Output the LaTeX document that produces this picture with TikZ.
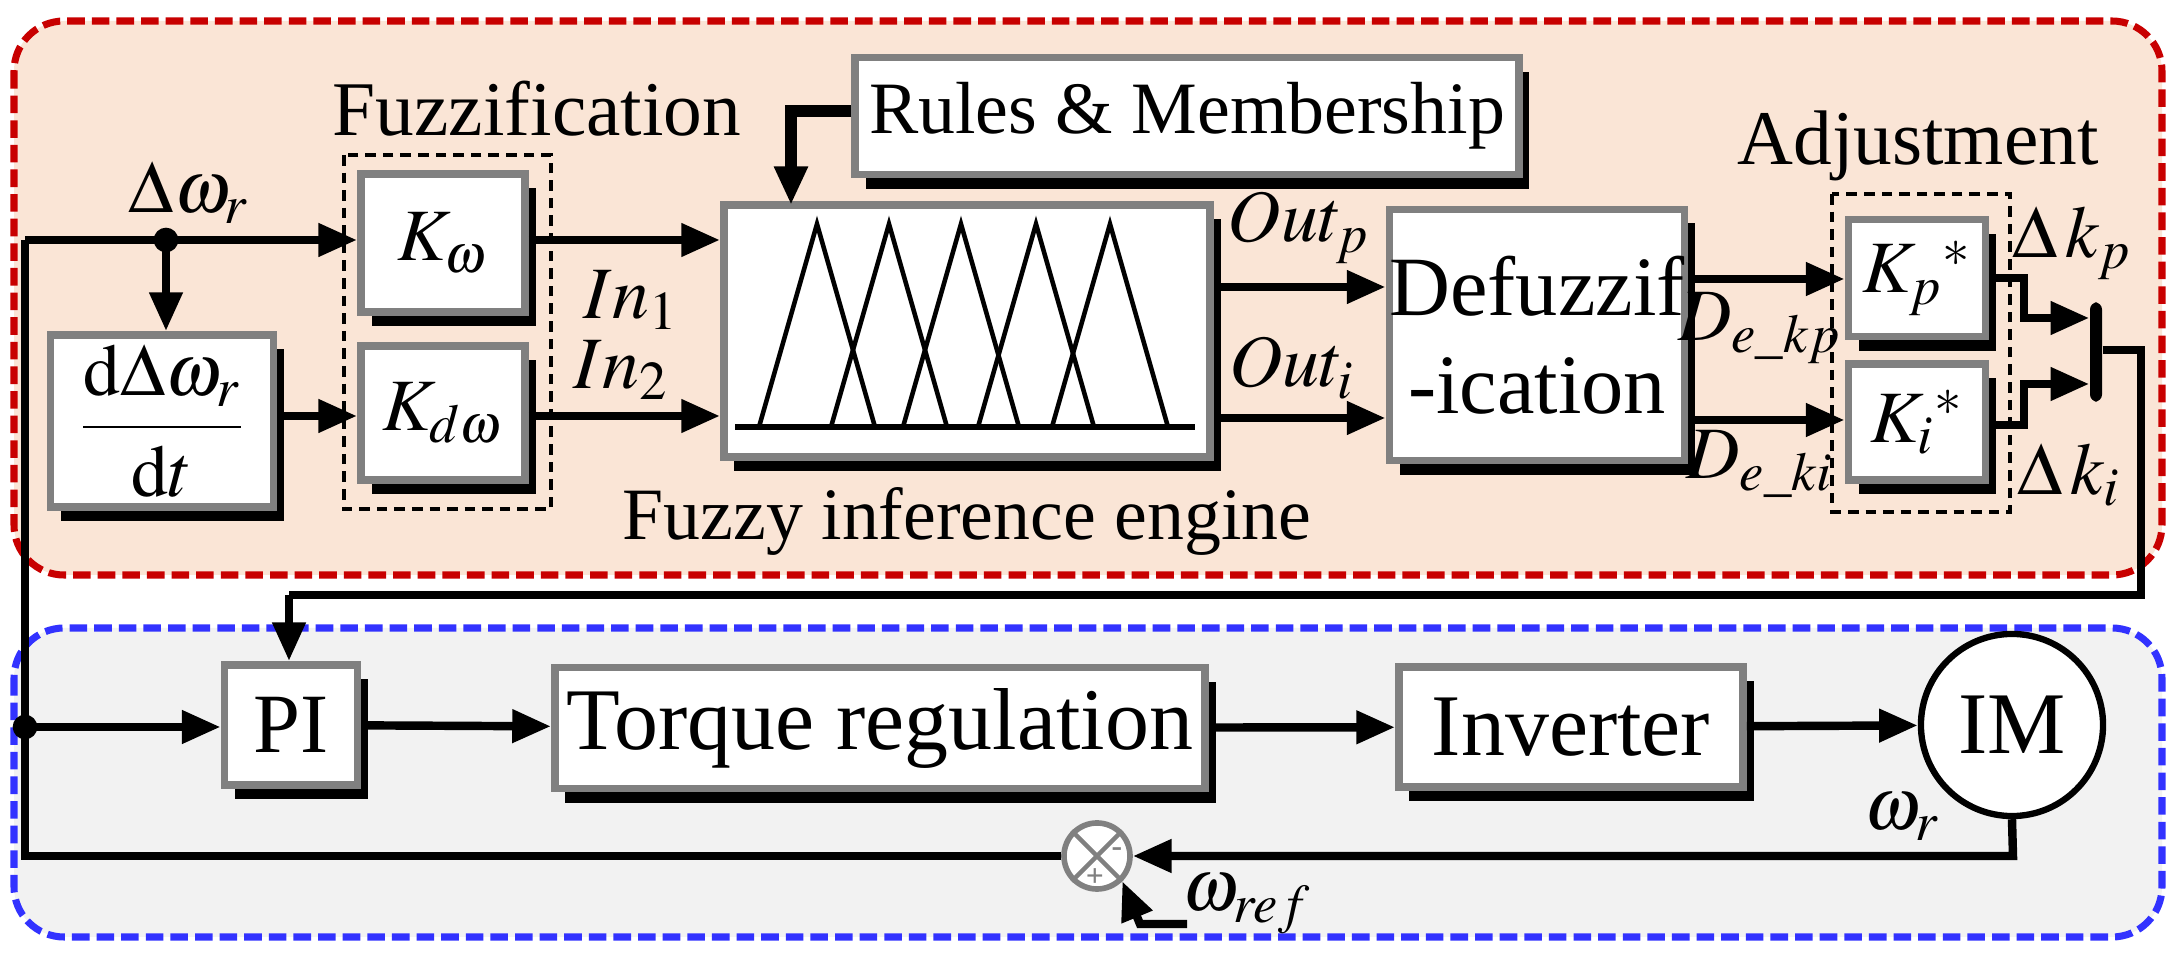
\documentclass[tikz,border=0pt]{standalone}
\usepackage{amsmath}
\usepackage{mathptmx}
\usepackage[no-math]{fontspec}
\setmainfont{Liberation Serif}
\usetikzlibrary{arrows.meta,shadows,calc}
\definecolor{redbg}{RGB}{250,229,214}
\definecolor{redln}{RGB}{200,0,0}
\definecolor{bluebg}{RGB}{242,242,242}
\definecolor{blueln}{RGB}{50,50,255}

\begin{document}
\begin{tikzpicture}[
   x=0.01cm, y=-0.01cm,
   every node/.append style={align=center, font=\fontsize{21}{24}\selectfont},
   blk/.style={draw=gray, line width=2.2pt, fill=white, inner sep=0pt,
      drop shadow={shadow xshift=3pt, shadow yshift=-4pt, fill=black, opacity=1}},
   sig/.style={line width=2.4pt, -{Triangle[length=11pt,width=9pt]}},
   wire/.style={line width=2.4pt},
   grp/.style={draw, densely dashed, line width=1.2pt}
]
\useasboundingbox (0,0) rectangle (2177,958);
% the two regions
\draw[redln, fill=redbg, line width=2pt, dash pattern=on 5pt off 2pt, rounded corners=0.5cm]
   (14,21) rectangle (2162,575);
\draw[blueln, fill=bluebg, line width=2pt, dash pattern=on 5pt off 2pt, rounded corners=0.5cm]
   (14,628) rectangle (2162,937);

% fuzzy part
\draw[grp] (344,155) rectangle (551,509);
\draw[grp] (1832,194) rectangle (2010,512);
\node[font=\fontsize{22}{24}\selectfont] (fzl) at (537,109) {Fuzzification};
\node[font=\fontsize{22}{24}\selectfont] (adl) at (1918,146) {Adjustment};
\node[blk, minimum width=2.23cm, minimum height=1.72cm] (dd) at (162,421)
   {$\dfrac{\mathrm{d}\Delta\omega_r}{\mathrm{d}t}$};
\node[blk, minimum width=1.64cm, minimum height=1.38cm] (kw) at (443,243) {$K_\omega$};
\node[blk, minimum width=1.64cm, minimum height=1.34cm] (kdw) at (443,413) {$K_{d\omega}$};
\node[blk, minimum width=4.86cm, minimum height=2.52cm] (fie) at (967,331) {};
\node[blk, minimum width=6.63cm, minimum height=1.17cm] (rules) at (1187,116) {Rules \& Membership};
\node[blk, minimum width=2.94cm, minimum height=2.51cm, font=\fontsize{24}{28}\selectfont] (defz) at (1537,335) {Defuzzif\\-ication};
\node[blk, minimum width=1.37cm, minimum height=1.17cm] (kp) at (1917,278) {$K_p{}^*$};
\node[blk, minimum width=1.37cm, minimum height=1.16cm] (ki) at (1917,422) {$K_i{}^*$};
\node[fill=black, rounded corners=2pt, minimum width=0.12cm, minimum height=0.99cm, inner sep=0pt] (bar) at (2096,352) {};
\node (fiel) at (967,521) {Fuzzy inference engine};

% membership functions
\draw[line width=1.6pt] (735,427) -- (1195,427);
\foreach \p in {817,889,961,1036,1110}
   \draw[line width=1.3pt] (\p-58,427) -- (\p,224) -- (\p+58,427);

% fuzzy signals
\coordinate (br) at (166,240);
\coordinate (lft) at (25,240);
\draw[sig] (lft) -- (kw.west |- lft);
\fill (br) circle (3.5pt);
\draw[sig] (br) -- (dd.north -| br);
\draw[sig] (dd.east |- 0,416) -- (kdw.west |- 0,416);
\draw[sig] (kw.east |- 0,240) -- (fie.west |- 0,240);
\draw[sig] (kdw.east |- 0,416) -- (fie.west |- 0,416);
\draw[sig, line width=3.2pt] (rules.west |- 0,111) -- (791,111) -- (791,205);
\draw[sig] (fie.east |- 0,287) -- (defz.west |- 0,287);
\draw[sig] (fie.east |- 0,418) -- (defz.west |- 0,418);
\draw[sig] (defz.east |- 0,279) -- (kp.west |- 0,279);
\draw[sig] (defz.east |- 0,420) -- (ki.west |- 0,420);
\draw[sig] (kp.east |- 0,278) -- (2024,278) -- (2024,318) -- (bar.west |- 0,318);
\draw[sig] (ki.east |- 0,425) -- (2024,425) -- (2024,384) -- (bar.west |- 0,384);
\node (dwl) at (189,193) {$\Delta\omega_r$};
\node (in1) at (631,300) {$In_1$};
\node (in2) at (621,370) {$In_2$};
\node (opl) at (1299,228) {$Out_p$};
\node (oil) at (1292,368) {$Out_i$};
\node (dkpl) at (1760,328) {$D_{e\_kp}$};
\node (dkil) at (1760,464) {$D_{e\_ki}$};
\node (kpl) at (2072,243) {$\Delta\,k_p$};
\node (kil) at (2069,475) {$\Delta\,k_i$};

% control loop
\node[blk, minimum width=1.33cm, minimum height=1.2cm, font=\fontsize{24}{28}\selectfont] (pi) at (291,725) {PI};
\node[blk, minimum width=6.5cm, minimum height=1.21cm, font=\fontsize{25}{28}\selectfont] (tq) at (880,728) {Torque regulation};
\node[blk, minimum width=3.44cm, minimum height=1.2cm, font=\fontsize{25}{28}\selectfont] (inv) at (1571,727) {Inverter};
\node[draw, circle, line width=1.8pt, fill=white, minimum size=1.82cm, inner sep=0pt, font=\fontsize{25}{28}\selectfont] (im) at (2012,725) {IM};
\node[draw=gray, circle, line width=1.6pt, fill=white, minimum size=0.66cm, inner sep=0pt] (sum) at (1097,856) {};
\draw[gray, line width=1.3pt] (sum.north west) -- (sum.south east) (sum.north east) -- (sum.south west);
\node[gray, font=\small\bfseries, inner sep=0pt] (mns) at (1117,852) {-};
\node[gray, font=\small\bfseries, inner sep=0pt] (pls) at (1095,878) {+};

\coordinate (ml) at (25,727);
\coordinate (fb) at (25,856);
\draw[wire] (bar.east |- 0,350) -- (2141,350) -- (2141,595) -- (289,595);
\draw[sig] (289,595) -- (pi.north -| 289,0);
\draw[sig] (ml) -- (pi.west |- ml);
\fill (ml) circle (3.5pt);
\draw[sig] (pi) -- (tq);
\draw[sig] (tq) -- (inv);
\draw[sig] (inv) -- (im);
\draw[sig] (im.south) -- (2013,856) -- (sum.east);
\draw[wire] (sum.west) -- (fb) -- (lft);
\draw[sig] (1187,924) -- (1140,924) -- (sum.south east);
\node (wrl) at (1902,817) {$\omega_r$};
\node (wrefl) at (1247,904) {$\omega_{ref}$};
\end{tikzpicture}
\end{document}
